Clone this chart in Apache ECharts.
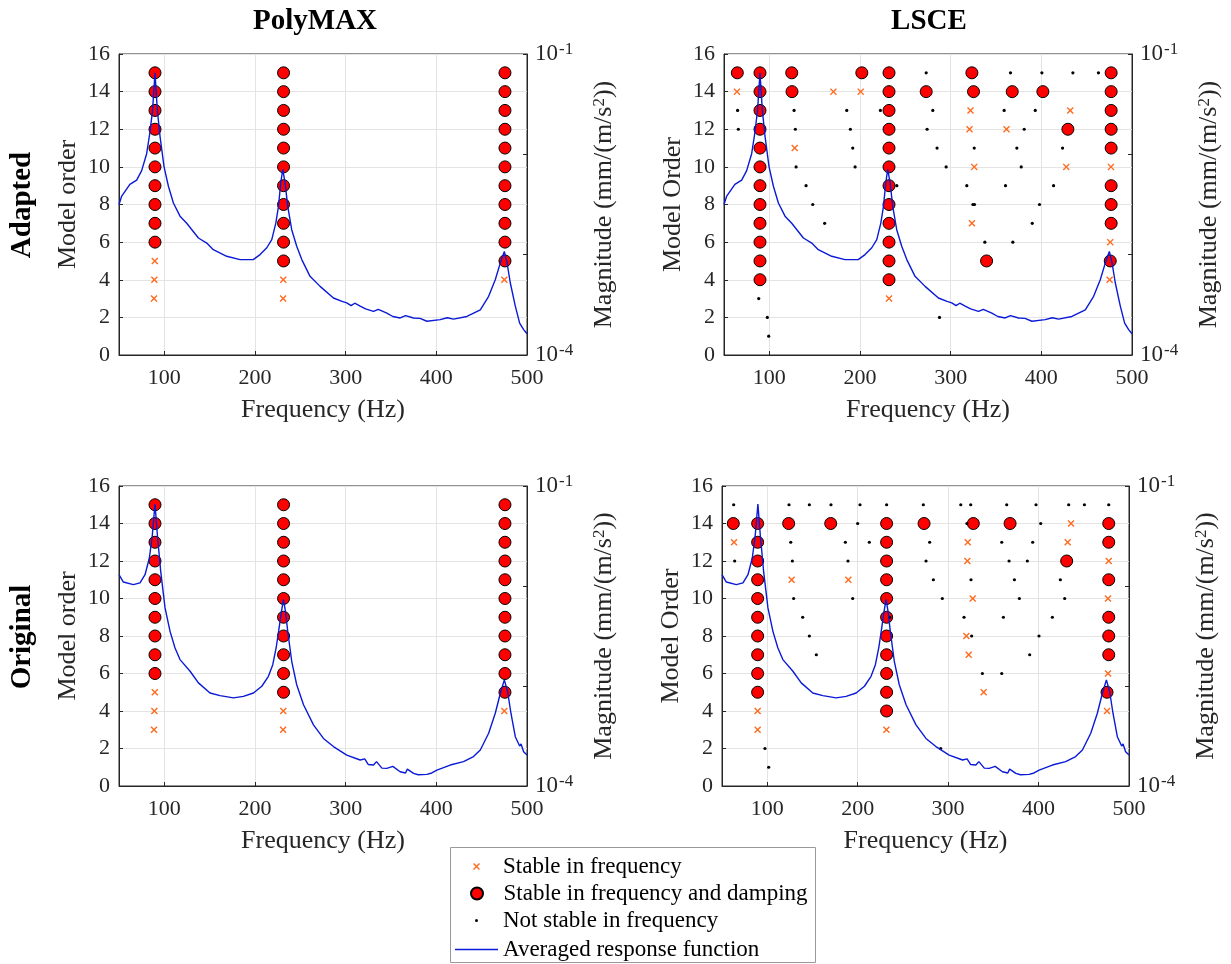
<!DOCTYPE html>
<html><head><meta charset="utf-8">
<script src="https://cdn.jsdelivr.net/npm/echarts@6/dist/echarts.min.js"></script>
<style>html,body{margin:0;padding:0;background:#fff}#c{width:1231px;height:964px}</style>
</head><body><div id="c"></div>
<script>
const FONT = '"Liberation Serif","Times New Roman",serif';
const xTicks = [100, 200, 300, 400, 500];
const panelTitles = ['PolyMAX', 'LSCE'];
const rowTitles = ['Adapted', 'Original'];
const legendNames = ['Stable in frequency', 'Stable in frequency and damping', 'Not stable in frequency', 'Averaged response function'];

// Averaged response function (frequency Hz, magnitude mm/(m/s^2))
const adaptedFreq = [50,53,62,69.5,75,80.5,84,87,89.7,92.3,95.3,99.7,104.5,110,117.3,124.7,137.6,146.8,154,168.8,183.5,198,205.6,213,218.5,222.9,225.9,228.4,230.6,233.2,236.1,240.5,246,251.6,260.7,271.8,286.5,296,301.2,306,310,316,322,330.7,336,345.4,352,360.1,366,374.9,382,389.6,404.3,412,419,433.7,448.5,457.7,465,470.6,475,478,481.6,487.1,491.9,493.4,496.3,500];
const adaptedMag = [3.16e-3,3.84e-3,5.02e-3,5.54e-3,6.88e-3,1.014e-2,1.631e-2,2.738e-2,6.49e-2,2.738e-2,1.496e-2,7.50e-3,4.81e-3,3.27e-3,2.42e-3,2.054e-3,1.466e-3,1.305e-3,1.122e-3,9.64e-4,8.93e-4,8.93e-4,1.002e-3,1.172e-3,1.41e-3,2.054e-3,3.03e-3,5.19e-3,7.07e-3,5.19e-3,3.03e-3,1.774e-3,1.214e-3,8.93e-4,6.08e-4,4.83e-4,3.70e-4,3.42e-4,3.31e-4,3.10e-4,3.28e-4,3.07e-4,2.88e-4,2.72e-4,2.85e-4,2.62e-4,2.42e-4,2.34e-4,2.47e-4,2.34e-4,2.32e-4,2.17e-4,2.25e-4,2.35e-4,2.28e-4,2.42e-4,2.82e-4,3.85e-4,5.62e-4,8.29e-4,1.075e-3,8.29e-4,5.22e-4,3.07e-4,2.08e-4,2.12e-4,1.79e-4,1.63e-4];
const originalFreq = [50,54.8,65.8,73.2,78.7,83.5,86.8,89.7,92.3,96,100.8,106.3,111.8,117.3,128.4,137.6,150.4,161.5,176.2,187.2,198.3,207.5,214.8,219.6,223.3,226.6,229.2,231.4,233.6,236.1,240.5,246,253.5,264.5,275.5,286.5,301.2,316,321,325,330.7,334,340,345.4,352,360.1,366,368,374.9,380,389.6,395,400.6,415.3,430,441,448.5,457.7,465,470.6,475,478.6,482.3,487.1,491.9,493.4,496.3,500];
const originalMag = [1.297e-2,1.096e-2,1.033e-2,1.074e-2,1.297e-2,1.905e-2,3.25e-2,6.61e-2,3.25e-2,1.403e-2,6.04e-3,3.52e-3,2.40e-3,1.837e-3,1.405e-3,1.075e-3,8.51e-4,8.02e-4,7.60e-4,7.87e-4,8.51e-4,9.94e-4,1.250e-3,1.633e-3,2.40e-3,3.81e-3,5.59e-3,7.31e-3,5.59e-3,3.52e-3,1.767e-3,1.029e-3,6.49e-4,4.09e-4,2.99e-4,2.48e-4,2.04e-4,1.82e-4,1.87e-4,1.64e-4,1.62e-4,1.754e-4,1.51e-4,1.50e-4,1.57e-4,1.388e-4,1.35e-4,1.476e-4,1.336e-4,1.295e-4,1.307e-4,1.35e-4,1.443e-4,1.62e-4,1.754e-4,1.968e-4,2.29e-4,3.37e-4,5.34e-4,8.47e-4,1.151e-3,8.81e-4,5.34e-4,3.11e-4,2.51e-4,2.63e-4,2.20e-4,2.04e-4];

// PolyMAX (same in both rows) [frequency, model order]
const polyCross = [[88.6,3],[89,4],[89.5,5],[231,3],[231.2,4],[475,4]];
const polyCircle = [[89.7,6],[89.7,7],[89.7,8],[89.7,9],[89.7,10],[89.7,11],[89.7,12],[89.7,13],[89.7,14],[89.7,15],
  [231.5,5],[231.5,6],[231.5,7],[231.5,8],[231.5,9],[231.5,10],[231.5,11],[231.5,12],[231.5,13],[231.5,14],[231.5,15],
  [475.7,5],[475.7,6],[475.7,7],[475.7,8],[475.7,9],[475.7,10],[475.7,11],[475.7,12],[475.7,13],[475.7,14],[475.7,15]];
const polyDot = [];

// LSCE adapted
const lsceAdCross = [[64.3,14],[170.7,14],[200.8,14],[321.9,13],[431.9,13],[320.8,12],[361.6,12],[128,11],[326,10],[427.5,10],[476.8,10],[323.4,7],[476,6],[475.3,4],[232,3]];
const lsceAdCircle = [[64.7,15],[89.7,15],[124.7,15],[202,15],[232,15],[323.4,15],[477,15],
  [89.7,14],[125,14],[232,14],[273,14],[325.2,14],[367.9,14],[401.7,14],[477,14],
  [89.7,13],[232,13],[477,13],[89.7,12],[232,12],[429.3,12],[477,12],[89.7,11],[232,11],[477,11],
  [89.7,10],[232,10],[89.7,9],[232,9],[477,9],[89.7,8],[232,8],[477,8],[89.7,7],[232,7],[477,7],
  [89.7,6],[232,6],[89.7,5],[232,5],[339.6,5],[476,5],[89.7,4],[232,4]];
const lsceAdDot = [[273,15],[366,15],[400.6,15],[434.8,15],[463,15],
  [65,13],[127.3,13],[185.4,13],[222.5,13],[280.3,13],[359,13],[393.3,13],
  [65.8,12],[128.7,12],[189.4,12],[274,12],[381.1,12],
  [192,11],[285,11],[326,11],[373,11],[423.4,11],
  [129.5,10],[194.6,10],[295,10],[377.8,10],
  [140.5,9],[240.6,9],[317.8,9],[360.5,9],[413.5,9],
  [147.9,8],[324.5,8],[326.3,8],[398,8],[161,7],[390,7],[337.7,6],[368.6,6],
  [88.3,3],[97.8,2],[287.7,2],[99.3,1]];

// LSCE original
const lsceOrCross = [[63.3,13],[127,11],[189.7,11],[435.9,14],[321.7,13],[432.2,13],[321.3,12],[477.6,12],[327.2,10],[476.8,10],[320.2,8],[322.8,7],[476.8,6],[339.3,5],[89.4,4],[89.4,3],[231.8,3],[475.7,4]];
const lsceOrCircle = [[62.5,14],[89.4,14],[123.7,14],[170.2,14],[232,14],[273.4,14],[327.9,14],[368.5,14],[477.6,14],
  [89.4,13],[232,13],[477.6,13],[89.4,12],[232,12],[431.1,12],[89.4,11],[232,11],[477.6,11],
  [89.4,10],[232,10],[89.4,9],[232,9],[477.6,9],[89.4,8],[232,8],[477.6,8],[89.4,7],[232,7],[477.6,7],
  [89.4,6],[232,6],[89.4,5],[232,5],[475.7,5],[232,4]];
const lsceOrDot = [[62.9,15],[124.1,15],[146.6,15],[170.5,15],[202.6,15],[232,15],[272.6,15],[314,15],[325,15],[364.8,15],[397.2,15],[433.3,15],[450.7,15],[477.6,15],
  [200,14],[320.8,14],[402.4,14],
  [126,13],[186.4,13],[212.9,13],[279.6,13],[359.3,13],[393.5,13],
  [64,12],[127.8,12],[189.3,12],[275.6,12],[367.4,12],[387.6,12],
  [283.7,11],[325.3,11],[373.3,11],[424.1,11],
  [129.2,10],[194.5,10],[293.6,10],[378.8,10],[428.9,10],
  [139.2,9],[235.5,9],[317.6,9],[361.1,9],[415.3,9],
  [146.6,8],[326,8],[400.5,8],[154.3,7],[390.2,7],[337.9,6],[359.3,6],
  [97.5,2],[291.8,2],[101.6,1]];

const panels = [
  {cross: polyCross, circle: polyCircle, dot: polyDot, freq: adaptedFreq, mag: adaptedMag, yName: 'Model order'},
  {cross: lsceAdCross, circle: lsceAdCircle, dot: lsceAdDot, freq: adaptedFreq, mag: adaptedMag, yName: 'Model Order'},
  {cross: polyCross, circle: polyCircle, dot: polyDot, freq: originalFreq, mag: originalMag, yName: 'Model order'},
  {cross: lsceOrCross, circle: lsceOrCircle, dot: lsceOrDot, freq: originalFreq, mag: originalMag, yName: 'Model Order'}
];

const CROSS = 'path://M0,1.4L1.4,0L5,3.6L8.6,0L10,1.4L6.4,5L10,8.6L8.6,10L5,6.4L1.4,10L0,8.6L3.6,5Z';
const AX = '#262626';
const grids = [
  {left: 119, top: 54, width: 408, height: 301},
  {left: 724, top: 54, width: 408, height: 301},
  {left: 119, top: 486, width: 408, height: 300},
  {left: 722, top: 486, width: 407, height: 300}
];
grids.forEach(g => { g.show = true; g.borderColor = AX; g.borderWidth = 1; g.containLabel = false; });

const xAxis = [], yAxis = [], series = [];
panels.forEach((p, i) => {
  xAxis.push({
    type: 'value', gridIndex: i, min: 50, max: 500,
    name: 'Frequency (Hz)', nameLocation: 'middle', nameGap: 42,
    nameTextStyle: {fontFamily: FONT, fontSize: 26, color: AX},
    axisLine: {lineStyle: {color: AX, width: 1}},
    axisTick: {inside: true, length: 4, customValues: xTicks, lineStyle: {color: AX}},
    axisLabel: {customValues: xTicks, fontFamily: FONT, fontSize: 22, color: AX, margin: 12},
    splitLine: {show: true, lineStyle: {color: '#e4e4e4', width: 1}}
  });
});
panels.forEach((p, i) => {
  yAxis.push({
    type: 'value', gridIndex: i, min: 0, max: 16, interval: 2, position: 'left',
    name: p.yName, nameLocation: 'middle', nameGap: 38, nameRotate: 90,
    nameTextStyle: {fontFamily: FONT, fontSize: 26, color: AX},
    axisLine: {show: true, lineStyle: {color: AX, width: 1}},
    axisTick: {show: true, inside: true, length: 4, lineStyle: {color: AX}},
    axisLabel: {fontFamily: FONT, fontSize: 22, color: AX, margin: 9},
    splitLine: {show: true, lineStyle: {color: '#e4e4e4', width: 1}}
  });
});
panels.forEach((p, i) => {
  yAxis.push({
    type: 'log', logBase: 10, gridIndex: i, min: 1e-4, max: 1e-1, position: 'right',
    name: 'Magnitude (mm/(m/s{sup|2}))', nameLocation: 'middle', nameGap: 64, nameRotate: 90,
    nameTextStyle: {fontFamily: FONT, fontSize: 26, color: AX,
      rich: {sup: {fontFamily: FONT, fontSize: 17, color: AX, verticalAlign: 'top'}}},
    axisLine: {show: true, lineStyle: {color: AX, width: 1}},
    axisTick: {show: true, inside: true, length: 4, lineStyle: {color: AX}},
    axisLabel: {
      fontFamily: FONT, fontSize: 23, color: AX, margin: 8,
      formatter: v => {
        const e = Math.round(Math.log10(v));
        return (e === -4 || e === -1) ? '10{sup|' + e + '}' : '';
      },
      rich: {sup: {fontFamily: FONT, fontSize: 17, color: AX, verticalAlign: 'top', padding: [0, 0, 8, 1]}}
    },
    splitLine: {show: false}
  });
});
panels.forEach((p, i) => {
  series.push({
    type: 'scatter', name: legendNames[0], xAxisIndex: i, yAxisIndex: i, data: p.cross,
    symbol: CROSS, symbolSize: 7, itemStyle: {color: '#FF6A1F', opacity: 1}, z: 3
  });
  series.push({
    type: 'scatter', name: legendNames[1], xAxisIndex: i, yAxisIndex: i, data: p.circle,
    symbol: 'circle', symbolSize: 12, itemStyle: {color: '#FF0000', borderColor: '#000', borderWidth: 1, opacity: 1}, z: 4
  });
  series.push({
    type: 'scatter', name: legendNames[2], xAxisIndex: i, yAxisIndex: i, data: p.dot,
    symbol: 'circle', symbolSize: 3.2, itemStyle: {color: '#000', opacity: 1}, z: 5
  });
  series.push({
    type: 'line', name: legendNames[3], xAxisIndex: i, yAxisIndex: 4 + i,
    data: p.freq.map((f, k) => [f, p.mag[k]]),
    showSymbol: false, symbol: 'none', itemStyle: {color: '#0A1AD6'},
    lineStyle: {color: '#0A1AD6', width: 1.4}, z: 6
  });
});

// legend icons are drawn centred in a 43px slot; the box's left is the icon's left edge
const legTxt = {fontFamily: FONT, fontSize: 23, color: '#000'};
const legend = [
  {data: [{name: legendNames[0], icon: CROSS}], left: 473, top: 855, itemWidth: 43, itemHeight: 7, padding: 0, selectedMode: false, textStyle: legTxt},
  {data: [{name: legendNames[1], icon: 'circle'}], left: 470, top: 882, itemWidth: 43, itemHeight: 12, padding: 0, selectedMode: false, textStyle: legTxt},
  {data: [{name: legendNames[2], icon: 'circle'}], left: 475, top: 909, itemWidth: 43, itemHeight: 3, padding: 0, selectedMode: false, textStyle: legTxt},
  {data: [{name: legendNames[3], icon: 'rect'}], left: 455, top: 938, itemWidth: 43, itemHeight: 1.5, padding: 0, selectedMode: false, textStyle: legTxt}
];

const titleStyle = t => ({text: t, fontFamily: FONT, fontSize: 29, fontWeight: 'bold', fill: '#000', align: 'center', verticalAlign: 'middle'});
const graphic = [
  {type: 'text', x: 315, y: 22, style: titleStyle(panelTitles[0])},
  {type: 'text', x: 929, y: 22, style: titleStyle(panelTitles[1])},
  {type: 'text', x: 23, y: 205, rotation: Math.PI / 2, style: titleStyle(rowTitles[0])},
  {type: 'text', x: 23, y: 637, rotation: Math.PI / 2, style: titleStyle(rowTitles[1])},
  {type: 'rect', shape: {x: 450.5, y: 847.5, width: 365, height: 115}, style: {fill: 'none', stroke: '#999', lineWidth: 1}}
];

const chart = echarts.init(document.getElementById('c'), null, {renderer: 'canvas'});
chart.setOption({
  animation: false,
  backgroundColor: '#fff',
  grid: grids, xAxis, yAxis, series, legend, graphic
});
</script></body></html>
